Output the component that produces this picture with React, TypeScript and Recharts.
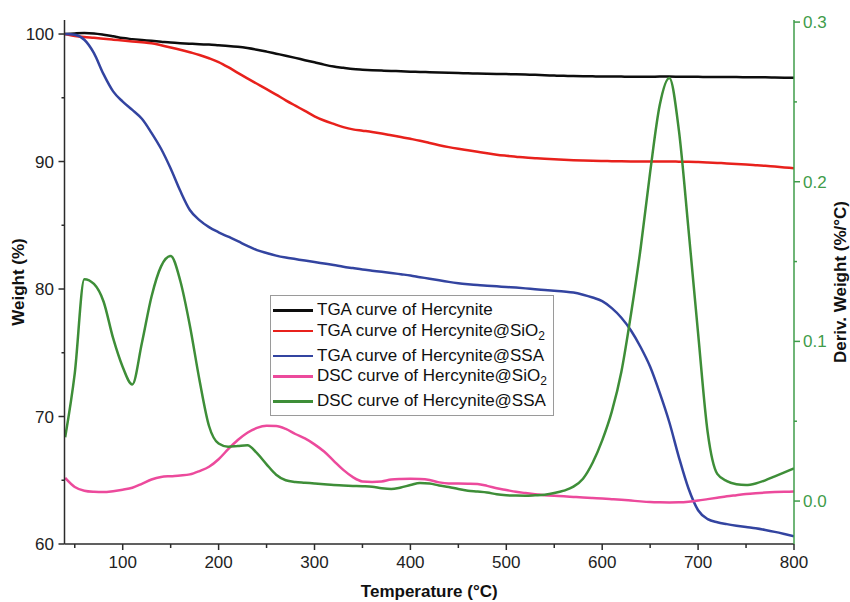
import React from 'react';
import { LineChart, Line, XAxis, YAxis, Legend, Label } from 'recharts';

// temperature grid (°C)
const temps = [
  40, 50, 60, 70, 80, 90, 100, 110, 120, 130, 140, 150, 160, 170, 180, 190, 200,
  210, 220, 230, 240, 250, 260, 270, 280, 290, 300, 310, 320, 330, 340, 350, 360,
  370, 380, 390, 400, 410, 420, 430, 440, 450, 460, 470, 480, 490, 500, 510, 520,
  530, 540, 550, 560, 570, 580, 590, 600, 610, 620, 630, 640, 650, 660, 670, 680,
  690, 700, 710, 720, 730, 740, 750, 760, 770, 780, 790, 800,
];

// TGA weight (%) - left axis
const tgaHercynite = [
  100.0, 100.05, 100.08, 100.05, 99.95, 99.82, 99.68, 99.6, 99.53, 99.47, 99.4, 99.33, 99.28, 99.24, 99.2, 99.17, 99.12,
  99.07, 99.0, 98.9, 98.77, 98.62, 98.46, 98.3, 98.13, 97.95, 97.78, 97.6, 97.45, 97.35, 97.25, 97.2, 97.16,
  97.13, 97.1, 97.08, 97.05, 97.03, 97.0, 96.98, 96.96, 96.94, 96.92, 96.9, 96.88, 96.87, 96.86, 96.84, 96.82,
  96.8, 96.77, 96.74, 96.72, 96.7, 96.69, 96.68, 96.67, 96.67, 96.66, 96.65, 96.65, 96.65, 96.66, 96.66, 96.65,
  96.64, 96.64, 96.63, 96.63, 96.62, 96.62, 96.61, 96.6, 96.6, 96.59, 96.58, 96.57,
];

const tgaSiO2 = [
  100.0, 99.85, 99.76, 99.7, 99.63, 99.56, 99.49, 99.42, 99.35, 99.27, 99.12, 98.95, 98.77, 98.57, 98.36, 98.1, 97.8,
  97.4, 96.95, 96.52, 96.1, 95.68, 95.25, 94.8, 94.38, 93.97, 93.55, 93.22, 92.95, 92.7, 92.52, 92.42, 92.32,
  92.2, 92.06, 91.92, 91.78, 91.63, 91.45, 91.28, 91.13, 91.0, 90.88, 90.76, 90.64, 90.53, 90.45, 90.38, 90.31,
  90.26, 90.21, 90.17, 90.13, 90.1, 90.08, 90.06, 90.04, 90.03, 90.02, 90.01, 90.0, 90.0, 90.0, 90.0, 89.99,
  89.98, 89.96, 89.93, 89.89, 89.85, 89.8, 89.76, 89.71, 89.66, 89.6, 89.54, 89.48,
];

const tgaSSA = [
  100.0, 99.95, 99.55, 98.5, 96.85, 95.5, 94.7, 94.05, 93.35, 92.25, 91.0, 89.45, 87.7, 86.2, 85.4, 84.85, 84.45,
  84.1, 83.75, 83.38, 83.05, 82.82, 82.62, 82.47, 82.35, 82.23, 82.12, 82.0, 81.88, 81.75, 81.64, 81.53, 81.44,
  81.35, 81.26, 81.16, 81.06, 80.93, 80.81, 80.68, 80.56, 80.46, 80.38, 80.31, 80.26, 80.21, 80.16, 80.11, 80.05,
  79.98, 79.92, 79.86, 79.8, 79.72, 79.55, 79.33, 79.05, 78.5, 77.75, 76.75, 75.45, 73.9, 71.85, 69.55, 66.8,
  64.35, 62.65, 61.95, 61.7, 61.56, 61.44, 61.33, 61.23, 61.1, 60.95, 60.78, 60.6,
];

// deriv. weight (%/°C) - right axis
const dscSiO2 = [
  0.0145, 0.0088, 0.0065, 0.0058, 0.0056, 0.0062, 0.0071, 0.0083, 0.0108, 0.0135, 0.0151, 0.0156, 0.016, 0.0167, 0.0188, 0.0215, 0.0262,
  0.0325, 0.0382, 0.0428, 0.0458, 0.0471, 0.047, 0.0452, 0.042, 0.0392, 0.0355, 0.031, 0.0252, 0.0195, 0.015, 0.0123, 0.012,
  0.0123, 0.0135, 0.0138, 0.0139, 0.0138, 0.0132, 0.0117, 0.011, 0.011, 0.0109, 0.0107, 0.0095, 0.008, 0.0069, 0.0058, 0.005,
  0.0043, 0.0037, 0.0033, 0.003, 0.0026, 0.0022, 0.0019, 0.0016, 0.0012, 0.0008, 0.0003, -0.0002, -0.0006, -0.0008, -0.0009, -0.0008,
  -0.0004, 0.0003, 0.0012, 0.0021, 0.003, 0.0037, 0.0044, 0.0049, 0.0053, 0.0056, 0.0058, 0.006,
];

const dscSSA = [
  0.04, 0.08, 0.139, 0.136, 0.125, 0.102, 0.084, 0.073, 0.099, 0.128, 0.147, 0.1535, 0.138, 0.11, 0.076, 0.047, 0.036,
  0.034, 0.0345, 0.035, 0.03, 0.023, 0.0165, 0.013, 0.012, 0.0115, 0.011, 0.0105, 0.01, 0.0098, 0.0095, 0.0093, 0.009,
  0.008, 0.0075, 0.0085, 0.01, 0.0113, 0.011, 0.0097, 0.0088, 0.0075, 0.0065, 0.006, 0.0054, 0.0042, 0.0036, 0.0034, 0.0033,
  0.0036, 0.004, 0.005, 0.0065, 0.009, 0.014, 0.024, 0.038, 0.056, 0.081, 0.117, 0.158, 0.206, 0.248, 0.265, 0.232,
  0.17, 0.105, 0.043, 0.017, 0.0125, 0.0105, 0.01, 0.011, 0.013, 0.0155, 0.018, 0.0205,
];

const seriesNames = [
  'TGA curve of Hercynite',
  'TGA curve of Hercynite@SiO2',
  'TGA curve of Hercynite@SSA',
  'DSC curve of Hercynite@SiO2',
  'DSC curve of Hercynite@SSA',
];

const xTicks = [50, 100, 150, 200, 250, 300, 350, 400, 450, 500, 550, 600, 650, 700, 750, 800];
const weightTicks = [60, 65, 70, 75, 80, 85, 90, 95, 100];
const derivTicks = [0, 0.05, 0.1, 0.15, 0.2, 0.25, 0.3];

const data = temps.map((t, i) => ({
  t,
  hercynite: tgaHercynite[i],
  sio2: tgaSiO2[i],
  ssa: tgaSSA[i],
  dscSio2: dscSiO2[i],
  dscSsa: dscSSA[i],
}));

const FONT = '"Liberation Sans", Arial, sans-serif';
const FS = 17;
const AXIS = '#2b2b2b';
const GREEN_AXIS = '#3f9c4a';

const BottomTick = (props: any) => {
  const { x, y, payload } = props;
  const major = payload.value % 100 === 0;
  return (
    <g>
      <line x1={x} x2={x} y1={y} y2={y + (major ? 6 : 4)} stroke={AXIS} strokeWidth={1.5} />
      {major && (
        <text x={x} y={y + 24} textAnchor="middle" fontSize={FS} fontFamily={FONT} fill="#222">
          {payload.value}
        </text>
      )}
    </g>
  );
};

const TopTick = (props: any) => {
  const { x, y, payload } = props;
  const major = payload.value % 100 === 0;
  return <line x1={x} x2={x} y1={y} y2={y + (major ? 7 : 4)} stroke={AXIS} strokeWidth={1.5} />;
};

const LeftTick = (props: any) => {
  const { x, y, payload } = props;
  const major = payload.value % 10 === 0;
  return (
    <g>
      <line x1={x} x2={x - (major ? 6 : 3)} y1={y} y2={y} stroke={AXIS} strokeWidth={1.5} />
      {major && (
        <text x={x - 10.5} y={y} dy={6} textAnchor="end" fontSize={FS} fontFamily={FONT} fill="#222">
          {payload.value}
        </text>
      )}
    </g>
  );
};

const RightTick = (props: any) => {
  const { x, y, payload } = props;
  const v = payload.value;
  const major = Math.abs(v * 10 - Math.round(v * 10)) < 1e-6;
  return (
    <g>
      <line x1={x} x2={x + (major ? 6 : 3)} y1={y} y2={y} stroke={GREEN_AXIS} strokeWidth={1.5} />
      {major && (
        <text x={x + 9} y={y} dy={6} textAnchor="start" fontSize={FS} fontFamily={FONT} fill={GREEN_AXIS}>
          {v.toFixed(1)}
        </text>
      )}
    </g>
  );
};

const LeftTitle = ({ viewBox }: any) => {
  const cx = viewBox.x + 18;
  const cy = viewBox.y + viewBox.height / 2;
  return (
    <text x={cx} y={cy} transform={`rotate(-90 ${cx} ${cy})`} textAnchor="middle" dominantBaseline="central"
      fontSize={FS} fontWeight="bold" fontFamily={FONT} fill="#111">
      Weight (%)
    </text>
  );
};

const RightTitle = ({ viewBox }: any) => {
  const cx = viewBox.x + 46;
  const cy = viewBox.y + viewBox.height / 2;
  return (
    <text x={cx} y={cy} transform={`rotate(-90 ${cx} ${cy})`} textAnchor="middle" dominantBaseline="central"
      fontSize={FS} fontWeight="bold" fontFamily={FONT} fill="#111">
      Deriv. Weight (%/°C)
    </text>
  );
};

const BottomTitle = ({ viewBox }: any) => (
  <text x={viewBox.x + viewBox.width / 2} y={viewBox.y + 53} textAnchor="middle"
    fontSize={FS} fontWeight="bold" fontFamily={FONT} fill="#111">
    Temperature (°C)
  </text>
);

const renderName = (name: string) =>
  name.endsWith('SiO2') ? (
    <>
      {name.slice(0, -1)}
      <sub style={{ fontSize: 12, lineHeight: 0 }}>2</sub>
    </>
  ) : (
    name
  );

const LegendBox = ({ payload }: any) => {
  const items = [...(payload || [])].sort(
    (a: any, b: any) => seriesNames.indexOf(String(a.value)) - seriesNames.indexOf(String(b.value)),
  );
  return (
    <div style={{ border: '1px solid #9a9a9a', background: '#fff', padding: '4px 6px 3px 2px', fontFamily: FONT, fontSize: FS, color: '#111', display: 'inline-block' }}>
      {items.map((p: any) => {
        const sub = String(p.value).endsWith('SiO2');
        return (
          <div key={p.value} style={{ display: 'flex', alignItems: 'flex-start', height: sub ? 25 : 20.5 }}>
            <div style={{ width: 40, height: 2.5, marginTop: 9, background: p.color }} />
            <span style={{ lineHeight: '20px', marginLeft: 4, whiteSpace: 'nowrap' }}>{renderName(String(p.value))}</span>
          </div>
        );
      })}
    </div>
  );
};

export default function App() {
  return (
    <div style={{ position: 'absolute', left: 0, top: 0, width: 850, height: 602, background: '#fff', fontFamily: FONT }}>
      <LineChart width={850} height={602} data={data} margin={{ top: 20, right: 0, bottom: 0, left: 0 }}>
        <XAxis dataKey="t" type="number" domain={[39.3, 800]} ticks={xTicks} interval={0} height={58}
          tickSize={0} tickMargin={0} tickLine={false} tick={<BottomTick />} allowDataOverflow
          axisLine={{ stroke: AXIS, strokeWidth: 1.5 }}>
          <Label content={<BottomTitle />} />
        </XAxis>
        <XAxis xAxisId="top" orientation="top" dataKey="t" type="number" domain={[39.3, 800]} ticks={xTicks} interval={0}
          height={0} tickSize={0} tickMargin={0} tickLine={false} tick={<TopTick />} allowDataOverflow
          axisLine={{ stroke: AXIS, strokeWidth: 1.5 }} />
        <YAxis yAxisId="w" domain={[60, 101.1]} ticks={weightTicks} interval={0} width={64.5}
          tickSize={0} tickMargin={0} tickLine={false} tick={<LeftTick />} allowDataOverflow
          axisLine={{ stroke: AXIS, strokeWidth: 1.5 }}>
          <Label content={<LeftTitle />} />
        </YAxis>
        <YAxis yAxisId="d" orientation="right" domain={[-0.0269, 0.3013]} ticks={derivTicks} interval={0} width={56}
          tickSize={0} tickMargin={0} tickLine={false} tick={<RightTick />} allowDataOverflow
          axisLine={{ stroke: GREEN_AXIS, strokeWidth: 1.5 }}>
          <Label content={<RightTitle />} />
        </YAxis>
        <Legend layout="vertical" align="center" verticalAlign="middle" content={<LegendBox />}
          wrapperStyle={{ left: 270, top: 295, width: 'auto', height: 'auto' }} />
        <Line yAxisId="w" dataKey="hercynite" name={seriesNames[0]} type="monotone" stroke="#0d0d0d" strokeWidth={2.5} dot={false} isAnimationActive={false} />
        <Line yAxisId="w" dataKey="sio2" name={seriesNames[1]} type="monotone" stroke="#e8211c" strokeWidth={2.5} dot={false} isAnimationActive={false} />
        <Line yAxisId="w" dataKey="ssa" name={seriesNames[2]} type="monotone" stroke="#3344a0" strokeWidth={2.5} dot={false} isAnimationActive={false} />
        <Line yAxisId="d" dataKey="dscSio2" name={seriesNames[3]} type="monotone" stroke="#ec4a9c" strokeWidth={2.5} dot={false} isAnimationActive={false} />
        <Line yAxisId="d" dataKey="dscSsa" name={seriesNames[4]} type="monotone" stroke="#3e8e38" strokeWidth={2.5} dot={false} isAnimationActive={false} />
      </LineChart>
    </div>
  );
}
